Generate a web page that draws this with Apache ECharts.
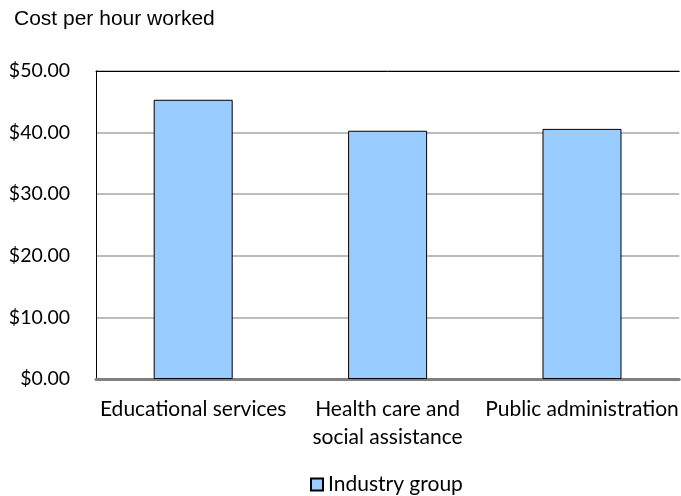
<!DOCTYPE html>
<html><head><meta charset="utf-8">
<script src="https://cdn.jsdelivr.net/npm/echarts@6/dist/echarts.min.js"></script>
<style>html,body{margin:0;padding:0;background:#fff}#c{width:681px;height:496px}</style>
</head><body><div id="c"></div>
<script>
const categories = ['Educational services', 'Health care and\nsocial assistance', 'Public administration'];
const costPerHour = [45.33, 40.3, 40.6];
const yTicks = { min: 0, max: 50, interval: 10 };
const seriesName = 'Industry group';
const titleText = 'Cost per hour worked';

const chart = echarts.init(document.getElementById('c'), null, { renderer: 'canvas' });
chart.setOption({
  animation: false,
  backgroundColor: '#fff',
  title: { text: titleText, left: 9, top: 4,
    textStyle: { fontFamily: 'Liberation Sans', fontSize: 21, fontWeight: 'normal', color: '#000' } },
  legend: { top: 469, left: 305, itemWidth: 12, itemHeight: 12, itemGap: 4,
    textStyle: { fontFamily: 'Lato', fontSize: 21, color: '#000' },
    data: [{ name: seriesName, icon: 'rect' }] },
  grid: { left: 96, top: 71, bottom: 117, width: 588, show: false },
  xAxis: [{ type: 'category', data: categories,
    axisTick: { show: false },
    axisLine: { lineStyle: { color: '#808080', width: 3 } },
    axisLabel: { fontFamily: 'Lato', fontSize: 21, color: '#000', margin: 16, lineHeight: 28, interval: 0 } },
    { type: 'category', data: categories, position: 'top',
      axisTick: { show: false }, axisLabel: { show: false },
      axisLine: { show: true, lineStyle: { color: '#000', width: 1 } } }],
  yAxis: { type: 'value', min: yTicks.min, max: yTicks.max, interval: yTicks.interval,
    axisLine: { show: true, lineStyle: { color: '#000', width: 1 } },
    axisTick: { show: false },
    splitLine: { lineStyle: { color: '#a6a6a6', width: 1.5 } },
    axisLabel: { fontFamily: 'Lato', fontSize: 19.5, color: '#000', margin: 26,
      formatter: v => '$' + v.toFixed(2) } },
  series: [{ name: seriesName, type: 'bar', data: costPerHour, barWidth: 79,
    itemStyle: { color: '#99ccff', borderColor: '#000', borderWidth: 1 } }]
});
</script></body></html>
